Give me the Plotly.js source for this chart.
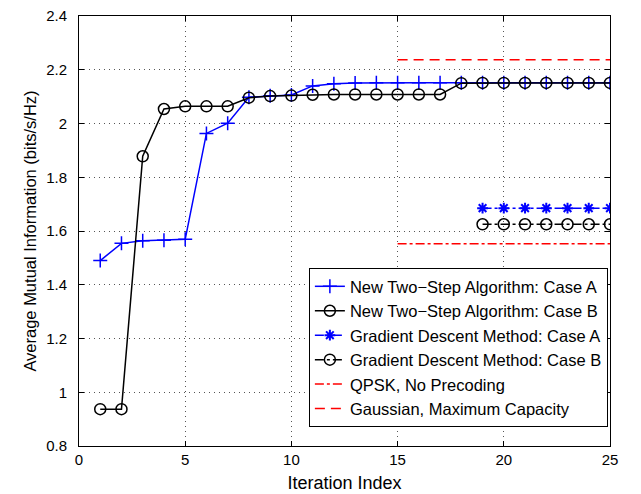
<!DOCTYPE html>
<html><head><meta charset="utf-8">
<script src="https://cdn.plot.ly/plotly-3.0.1.min.js"></script>
<style>body{margin:0;background:#fff}#c{width:641px;height:494px}</style>
</head><body><div id="c"></div>
<script>
const iterA = [1,2,3,4,5,6,7,8,9,10,11,12,13,14,15,16,17,18,19,20,21,22,23,24,25];
const twoStepA = [1.49,1.554,1.564,1.566,1.569,1.963,2.001,2.098,2.103,2.106,2.140,2.148,2.151,2.152,2.152,2.152,2.152,2.152,2.152,2.152,2.152,2.152,2.152,2.152,2.152];
const twoStepB = [0.937,0.937,1.878,2.054,2.064,2.064,2.064,2.096,2.102,2.104,2.107,2.108,2.108,2.108,2.108,2.108,2.108,2.150,2.151,2.151,2.151,2.151,2.151,2.151,2.151];
const iterGD = [19,20,21,22,23,24,25];
const gdA = [1.685,1.685,1.685,1.685,1.685,1.685,1.685];
const gdB = [1.625,1.625,1.625,1.625,1.625,1.625,1.625];
const iterRef = [15,25];
const qpsk = [1.553,1.553];
const gauss = [2.237,2.237];
const names = ["New Two\u2212Step Algorithm: Case A","New Two\u2212Step Algorithm: Case B","Gradient Descent Method: Case A","Gradient Descent Method: Case B","QPSK, No Precoding","Gaussian, Maximum Capacity"];

const traces = [
 {x:iterA,y:twoStepA,name:names[0],mode:'lines+markers',line:{color:'#0000ff',width:1.5},marker:{symbol:'cross-thin-open',size:10,color:'#0000ff',line:{width:1.5,color:'#0000ff'}}},
 {x:iterA,y:twoStepB,name:names[1],mode:'lines+markers',line:{color:'#000000',width:1.5},marker:{symbol:'circle-open',size:11,color:'#000000',line:{width:1.5,color:'#000000'}}},
 {x:iterGD,y:gdA,name:names[2],mode:'lines+markers',line:{color:'#0000ff',width:1.5,dash:'dashdot'},marker:{symbol:'asterisk-open',size:9,color:'#0000ff',line:{width:2,color:'#0000ff'}}},
 {x:iterGD,y:gdB,name:names[3],mode:'lines+markers',line:{color:'#000000',width:1.5,dash:'dashdot'},marker:{symbol:'circle-open',size:11,color:'#000000',line:{width:1.5,color:'#000000'}}},
 {x:iterRef,y:qpsk,name:names[4],mode:'lines',line:{color:'#ff0000',width:1.5,dash:'dashdot'}},
 {x:iterRef,y:gauss,name:names[5],mode:'lines',line:{color:'#ff0000',width:1.5,dash:'10px,6px'}}
];
const ax = {showline:true,linecolor:'#000',linewidth:1,mirror:'ticks',ticks:'inside',ticklen:5,tickcolor:'#000',
  showgrid:true,gridcolor:'#555',griddash:'1px,4px',gridwidth:1,zeroline:false,tickfont:{size:15,color:'#000'}};
const layout = {
  width:641,height:494,margin:{l:79,r:31,t:16,b:48},
  paper_bgcolor:'#fff',plot_bgcolor:'#fff',
  font:{family:'Arial, Liberation Sans, sans-serif',color:'#000',size:15},
  xaxis:Object.assign({},ax,{range:[0,25],dtick:5,tick0:0,title:{text:'Iteration Index',font:{size:18},standoff:9}}),
  yaxis:Object.assign({},ax,{range:[0.8,2.4],dtick:0.2,tick0:0.8,ticklabelstandoff:8,title:{text:'Average Mutual Information (bits/s/Hz)',font:{size:16.5},standoff:5}}),
  showlegend:true,
  legend:{x:0.996,y:0.044,xanchor:'right',yanchor:'bottom',bgcolor:'#fff',bordercolor:'#000',borderwidth:1,
    font:{size:16.5},tracegroupgap:0,itemwidth:30}
};
Plotly.newPlot('c',traces,layout,{staticPlot:true});
</script></body></html>
